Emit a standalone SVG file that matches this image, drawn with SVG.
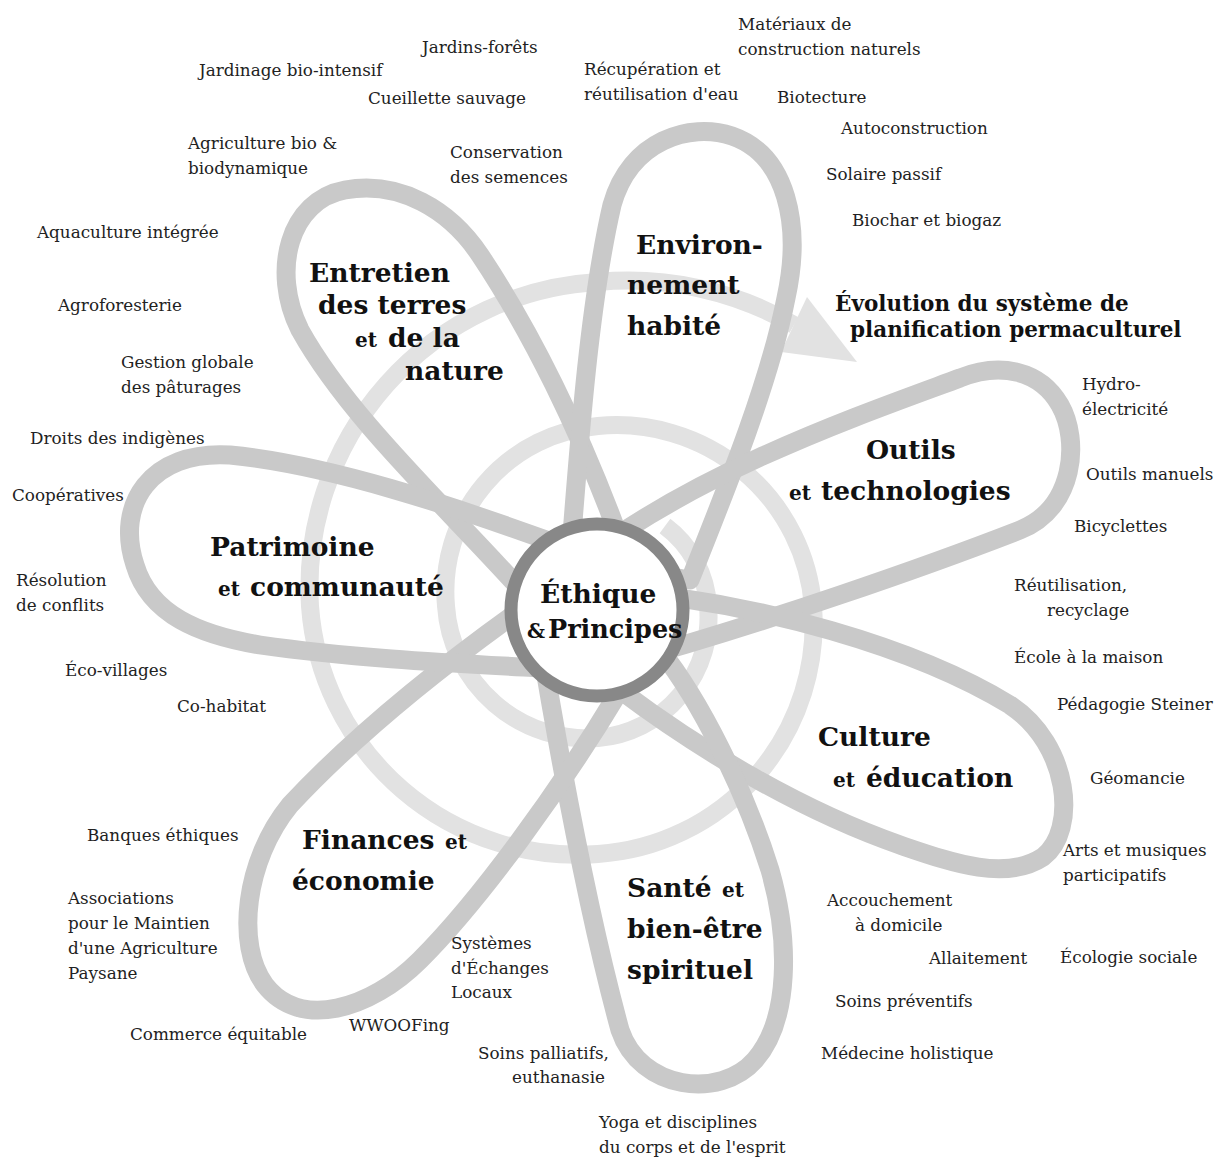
<svg xmlns="http://www.w3.org/2000/svg" width="1219" height="1159" viewBox="0 0 1219 1159">
<style>
.sp{fill:none;stroke:#e2e2e2;stroke-width:18}
.pt{fill:none;stroke:#c9c9c9;stroke-width:19;stroke-linejoin:round}
.h{font-family:"DejaVu Serif",serif;font-weight:bold;font-size:26.5px;fill:#111}
.e{font-family:"DejaVu Serif",serif;font-weight:bold;font-size:20px;fill:#111}
.l{font-family:"DejaVu Serif",serif;font-size:16.8px;fill:#222}
.ev{font-family:"DejaVu Serif",serif;font-weight:bold;font-size:21.5px;fill:#111}
</style>
<rect width="1219" height="1159" fill="#fff"/>
<g id="spiral">
<path class="sp" d="M665 526 A107 107 0 0 1 708 606 A121 121 0 0 1 598 738 A142 142 0 0 1 446 606 A166 166 0 0 1 598 426 A197 197 0 0 1 813 606 A231 231 0 0 1 598 854 A268 268 0 0 1 310 606 A306 306 0 0 1 598 282 A332 332 0 0 1 794 325"/>
<polygon points="857,362 807,297 781,352" fill="#e2e2e2"/>
</g>
<g id="connectors">
<path id="petal-entretien" class="pt" d="M530 600 C450 510 350 420 300 330 C270 270 290 200 345 190 C400 180 450 210 480 255 C530 330 580 430 620 540 Z"/>
<path id="petal-environnement" class="pt" d="M570 560 C580 430 590 300 612 205 C630 140 690 122 732 136 C787 155 802 225 786 298 C770 380 730 480 690 580 Z"/>
<path id="petal-outils" class="pt" d="M620 663 C760 625 930 565 1020 530 C1075 508 1080 440 1060 405 C1040 370 1000 362 960 378 C860 415 700 470 580 562 Z"/>
<path id="petal-culture" class="pt" d="M600 590 C760 600 920 650 1010 705 C1070 745 1078 830 1043 857 C1005 882 950 862 900 845 C800 810 700 750 620 690 Z"/>
<path id="petal-sante" class="pt" d="M540 640 C560 760 590 920 620 1030 C640 1090 720 1100 755 1060 C790 1020 790 940 770 870 C745 790 700 700 660 650 Z"/>
<path id="petal-finances" class="pt" d="M620 690 C560 790 480 900 420 960 C370 1010 300 1030 265 985 C235 945 245 860 290 805 C360 730 450 660 520 610 Z"/>
<path id="petal-patrimoine" class="pt" d="M560 545 C450 505 330 465 230 455 C150 450 115 505 135 565 C150 615 200 635 260 645 C350 658 450 663 540 668 Z"/>
</g>
<g id="center">
<circle cx="597" cy="610" r="86" fill="#fff" stroke="#888" stroke-width="13"/>
<text class="h" x="540" y="603">Éthique</text>
<text class="h" y="638" style="font-size:25.5px"><tspan class="e" x="527">&amp;</tspan><tspan x="548">Principes</tspan></text>
</g>
<g id="evolution">
<text class="ev" x="835" y="311">Évolution du système de</text>
<text class="ev" x="850" y="337">planification permaculturel</text>
</g>
<g id="node-entretien">
<text class="h" x="309" y="282">Entretien</text>
<text class="h" x="318" y="314">des terres</text>
<text class="h" y="347"><tspan class="e" x="355">et</tspan><tspan x="388">de la</tspan></text>
<text class="h" x="405" y="380">nature</text>
<text class="l" x="422" y="53">Jardins-forêts</text>
<text class="l" x="199" y="76">Jardinage bio-intensif</text>
<text class="l" x="368" y="104">Cueillette sauvage</text>
<text class="l" x="188" y="149">Agriculture bio &amp;</text>
<text class="l" x="188" y="174">biodynamique</text>
<text class="l" x="450" y="158">Conservation</text>
<text class="l" x="450" y="183">des semences</text>
<text class="l" x="37" y="238">Aquaculture intégrée</text>
<text class="l" x="58" y="311">Agroforesterie</text>
<text class="l" x="121" y="368">Gestion globale</text>
<text class="l" x="121" y="393">des pâturages</text>
</g>
<g id="node-environnement">
<text class="h" x="636" y="254">Environ-</text>
<text class="h" x="627" y="294">nement</text>
<text class="h" x="627" y="335">habité</text>
<text class="l" x="584" y="75">Récupération et</text>
<text class="l" x="584" y="100">réutilisation d'eau</text>
<text class="l" x="738" y="30">Matériaux de</text>
<text class="l" x="738" y="55">construction naturels</text>
<text class="l" x="777" y="103">Biotecture</text>
<text class="l" x="841" y="134">Autoconstruction</text>
<text class="l" x="826" y="180">Solaire passif</text>
<text class="l" x="852" y="226">Biochar et biogaz</text>
</g>
<g id="node-outils">
<text class="h" x="866" y="459">Outils</text>
<text class="h" y="500"><tspan class="e" x="789">et</tspan><tspan x="821">technologies</tspan></text>
<text class="l" x="1082" y="390">Hydro-</text>
<text class="l" x="1082" y="415">électricité</text>
<text class="l" x="1086" y="480">Outils manuels</text>
<text class="l" x="1074" y="532">Bicyclettes</text>
<text class="l" x="1014" y="591">Réutilisation,</text>
<text class="l" x="1047" y="616">recyclage</text>
</g>
<g id="node-culture">
<text class="h" x="818" y="746">Culture</text>
<text class="h" y="787"><tspan class="e" x="833">et</tspan><tspan x="866">éducation</tspan></text>
<text class="l" x="1014" y="663">École à la maison</text>
<text class="l" x="1057" y="710">Pédagogie Steiner</text>
<text class="l" x="1090" y="784">Géomancie</text>
<text class="l" x="1063" y="856">Arts et musiques</text>
<text class="l" x="1063" y="881">participatifs</text>
<text class="l" x="1060" y="963">Écologie sociale</text>
</g>
<g id="node-sante">
<text class="h" y="897"><tspan x="627">Santé</tspan><tspan class="e" x="722">et</tspan></text>
<text class="h" x="627" y="938">bien-être</text>
<text class="h" x="627" y="979">spirituel</text>
<text class="l" x="827" y="906">Accouchement</text>
<text class="l" x="855" y="931">à domicile</text>
<text class="l" x="929" y="964">Allaitement</text>
<text class="l" x="835" y="1007">Soins préventifs</text>
<text class="l" x="821" y="1059">Médecine holistique</text>
<text class="l" x="599" y="1128">Yoga et disciplines</text>
<text class="l" x="599" y="1153">du corps et de l'esprit</text>
<text class="l" x="478" y="1059">Soins palliatifs,</text>
<text class="l" x="512" y="1083">euthanasie</text>
</g>
<g id="node-finances">
<text class="h" y="849"><tspan x="302">Finances</tspan><tspan class="e" x="445">et</tspan></text>
<text class="h" x="292" y="890">économie</text>
<text class="l" x="451" y="949">Systèmes</text>
<text class="l" x="451" y="974">d'Échanges</text>
<text class="l" x="451" y="998">Locaux</text>
<text class="l" x="349" y="1031">WWOOFing</text>
<text class="l" x="130" y="1040">Commerce équitable</text>
<text class="l" x="87" y="841">Banques éthiques</text>
<text class="l" x="68" y="904">Associations</text>
<text class="l" x="68" y="929">pour le Maintien</text>
<text class="l" x="68" y="954">d'une Agriculture</text>
<text class="l" x="68" y="979">Paysane</text>
</g>
<g id="node-patrimoine">
<text class="h" x="210" y="556">Patrimoine</text>
<text class="h" y="596"><tspan class="e" x="218">et</tspan><tspan x="250">communauté</tspan></text>
<text class="l" x="30" y="444">Droits des indigènes</text>
<text class="l" x="12" y="501">Coopératives</text>
<text class="l" x="16" y="586">Résolution</text>
<text class="l" x="16" y="611">de conflits</text>
<text class="l" x="65" y="676">Éco-villages</text>
<text class="l" x="177" y="712">Co-habitat</text>
</g>
</svg>
